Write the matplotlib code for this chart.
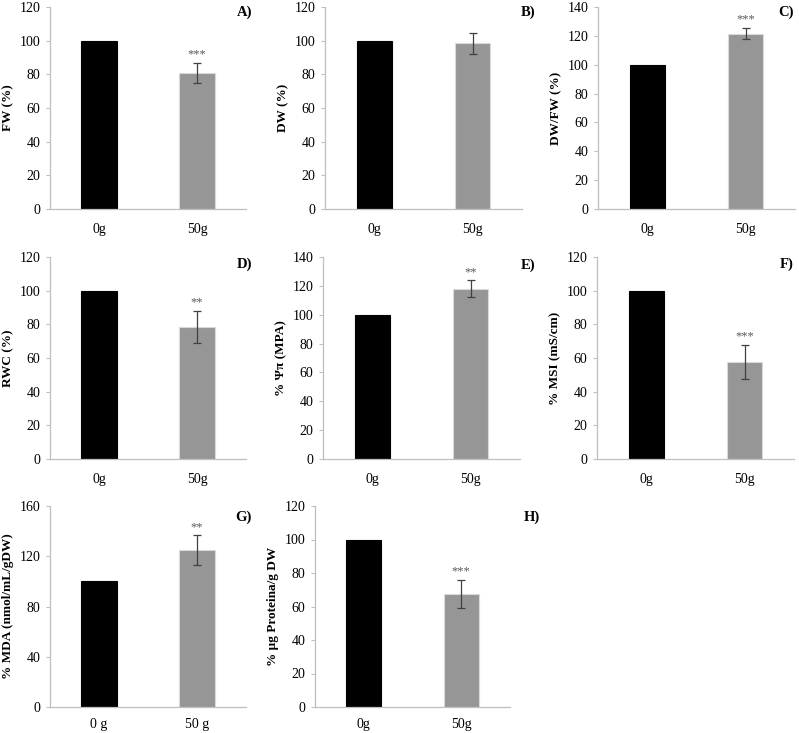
import matplotlib
matplotlib.use("Agg")
import matplotlib.pyplot as plt

plt.rcParams['font.family'] = ['Liberation Serif', 'DejaVu Serif']

groups = ["0g", "50g"]
groups_g = ["0 g", "50 g"]

panel_tags = ["A)", "B)", "C)", "D)", "E)", "F)", "G)", "H)"]
ylabels = ["FW (%)", "DW (%)", "DW/FW (%)", "RWC (%)", "% \u03a8\u03c0 (MPA)",
           "% MSI (mS/cm)", "% MDA (nmol/mL/gDW)", "% \u00b5g Proteina/g DW"]
treated = [81, 98.5, 121.5, 78.5, 118, 57.5, 125, 67.5]
treated_err = [6, 6.2, 4, 9.5, 6, 10.2, 12, 8.5]
control = [100, 100, 100, 100, 100, 100, 100, 100]
stars = ["***", "", "***", "**", "**", "***", "**", "***"]
ymax = [120, 120, 140, 120, 140, 120, 160, 120]
ystep = [20, 20, 20, 20, 20, 20, 40, 20]

# axes boxes in pixels: left, top, right, bottom
W, H = 799, 733
boxes = [
    (50, 7, 246, 209), (325, 7, 522, 209), (598, 7, 795, 209),
    (50, 257, 246, 459), (323, 257, 520, 459), (597, 257, 794, 459),
    (50, 506, 246, 707), (315, 506, 510, 707),
]
# panel tag anchor (right edge x, center y) in pixels
tag_pos = [(252, 12), (535, 12), (794, 12), (252, 264), (535, 265), (794, 264),
           (252, 517), (540, 517)]

fig = plt.figure(figsize=(W / 100, H / 100), dpi=100)
spine_c = "#bfbfbf"

for i in range(8):
    l, t, r, b = boxes[i]
    ax = fig.add_axes([l / W, 1 - b / H, (r - l) / W, (b - t) / H])
    labels = groups_g if i == 6 else groups
    ax.bar([0, 1], [control[i], treated[i]], width=0.36,
           color=["black", "#969696"], edgecolor=["black", "#d9d9d9"], linewidth=0.8)
    ax.errorbar([1], [treated[i]], yerr=[treated_err[i]], fmt="none",
                ecolor="#404040", elinewidth=0.9, capsize=3, capthick=0.9)
    if stars[i]:
        ax.text(1, treated[i] + treated_err[i] + 1.5, stars[i], ha="center",
                va="bottom", fontsize=9, color="#595959")
    ax.set_xlim(-0.5, 1.5)
    ax.set_ylim(0, ymax[i])
    ax.set_yticks(range(0, ymax[i] + 1, ystep[i]))
    ax.set_xticks([0, 1])
    ax.set_xticklabels(labels)
    ax.tick_params(axis="both", labelsize=10, labelcolor="black")
    ax.tick_params(axis="x", length=0, pad=8 if i >= 6 else 10)
    ax.tick_params(axis="y", length=3, width=0.8, color=spine_c, pad=4)
    for s in ["top", "right"]:
        ax.spines[s].set_visible(False)
    for s in ["left", "bottom"]:
        ax.spines[s].set_color(spine_c)
        ax.spines[s].set_linewidth(0.9)
    ax.set_ylabel(ylabels[i], fontsize=9.5, fontweight="bold", labelpad=4)
    tx, ty = tag_pos[i]
    fig.text(tx / W, 1 - ty / H, panel_tags[i], ha="right",
             va="center", fontsize=10.5, fontweight="bold")

fig.savefig("out.png", dpi=100)
